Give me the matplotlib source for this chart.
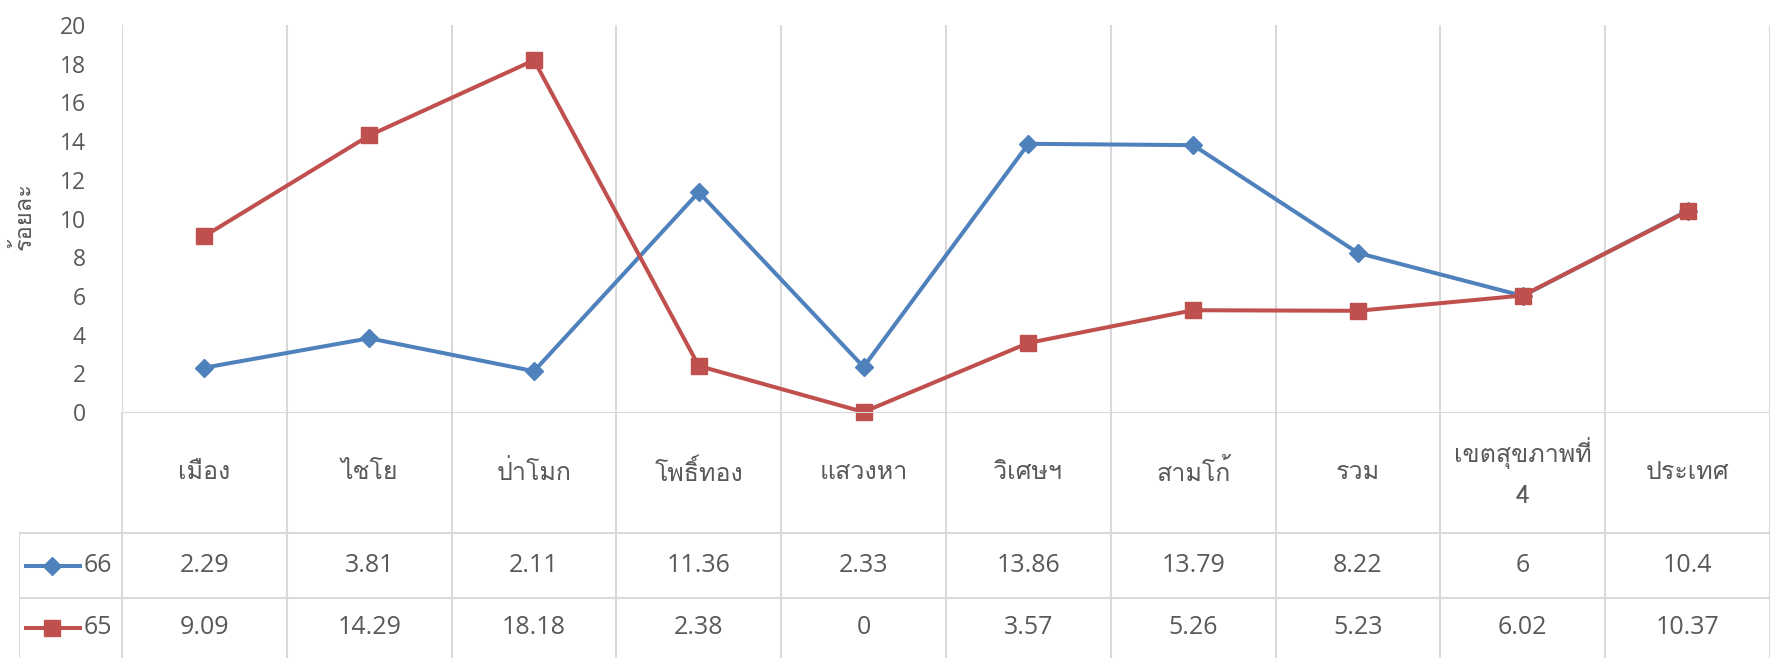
import matplotlib
matplotlib.use('Agg')
import matplotlib.pyplot as plt
from matplotlib import font_manager
from matplotlib.ft2font import FT2Font

# Data
categories = ['เมือง', 'ไชโย', 'ป่าโมก', 'โพธิ์ทอง', 'แสวงหา', 'วิเศษฯ',
              'สามโก้', 'รวม', 'เขตสุขภาพที่\n4', 'ประเทศ']
series_names = ['66', '65']
values_66 = [2.29, 3.81, 2.11, 11.36, 2.33, 13.86, 13.79, 8.22, 6, 10.4]
values_65 = [9.09, 14.29, 18.18, 2.38, 0, 3.57, 5.26, 5.23, 6.02, 10.37]
labels_66 = ['2.29', '3.81', '2.11', '11.36', '2.33', '13.86', '13.79', '8.22', '6', '10.4']
labels_65 = ['9.09', '14.29', '18.18', '2.38', '0', '3.57', '5.26', '5.23', '6.02', '10.37']
y_ticks = [0, 2, 4, 6, 8, 10, 12, 14, 16, 18, 20]
y_label = 'ร้อยละ'

BLUE = '#4F81BD'
RED = '#C0504D'
GRID = '#D9D9D9'
TEXT = '#595959'


# find an installed font that has Thai glyphs
def find_thai_font():
    for f in font_manager.fontManager.ttflist:
        try:
            cmap = FT2Font(f.fname).get_charmap()
        except Exception:
            continue
        if 0x0E01 in cmap and 0x0E2D in cmap:
            return f.name
    return None


thai = find_thai_font()
thai_fam = [thai, 'DejaVu Sans'] if thai else ['DejaVu Sans']
num_fam = ['Open Sans', 'DejaVu Sans']
plt.rcParams['font.family'] = thai_fam

W, H = 1775, 658
fig = plt.figure(figsize=(W / 100, H / 100), dpi=100)

# pixel geometry (from reference)
x_left, x_right = 122, 1770
y_top, y_zero = 25, 412
col_w = (x_right - x_left) / len(categories)

ax = fig.add_axes([x_left / W, 1 - y_zero / H, (x_right - x_left) / W, (y_zero - y_top) / H])
xs = list(range(len(categories)))
ax.set_xlim(-0.5, len(categories) - 0.5)
ax.set_ylim(0, 20)
for s in ax.spines.values():
    s.set_visible(False)
for k in range(len(categories) + 1):
    ax.axvline(k - 0.5, color=GRID, lw=1.5, zorder=0)
ax.set_xticks([])
ax.set_yticks(y_ticks)
ax.set_yticklabels([str(t) for t in y_ticks], family=num_fam)
ax.tick_params(axis='y', length=0, pad=26, labelsize=16.5, labelcolor=TEXT)

ax.plot(xs, values_66, color=BLUE, lw=2.9, marker='D', markersize=9, clip_on=False, zorder=3)
ax.plot(xs, values_65, color=RED, lw=2.9, marker='s', markersize=11.5, clip_on=False, zorder=4)

fig.text(24 / W, 1 - 216 / H, y_label, rotation=90, ha='center', va='center',
         fontsize=17, color=TEXT)

# data table underneath
x_tab0 = 19
tab = fig.add_axes([x_tab0 / W, 0, (x_right - x_tab0) / W, 1 - y_zero / H])
tab_left = -0.5 - (x_left - x_tab0) / col_w
tab.set_xlim(tab_left, len(categories) - 0.5)
tab.set_ylim(H, y_zero)
tab.axis('off')

row_head = (y_zero, 533)
row_a = (533, 598)
row_b = (598, H)

tab.plot([-0.5, len(categories) - 0.5], [y_zero, y_zero], color=GRID, lw=1.5)
for yy in [row_a[0], row_b[0]]:
    tab.plot([tab_left, len(categories) - 0.5], [yy, yy], color=GRID, lw=1.5)
for k in range(len(categories) + 1):
    tab.plot([k - 0.5, k - 0.5], [y_zero, H], color=GRID, lw=1.5)
tab.plot([tab_left, tab_left], [row_a[0], H], color=GRID, lw=1.5)

for i, cat in enumerate(categories):
    tab.text(i, sum(row_head) / 2, cat, ha='center', va='center', fontsize=18,
             color=TEXT, linespacing=1.9)
    tab.text(i, sum(row_a) / 2, labels_66[i], ha='center', va='center', fontsize=18,
             color=TEXT, family=num_fam)
    tab.text(i, sum(row_b) / 2, labels_65[i], ha='center', va='center', fontsize=18,
             color=TEXT, family=num_fam)


def px(x):
    return (x - x_left) / col_w - 0.5


for name, row, color, mk, ms in [(series_names[0], row_a, BLUE, 'D', 9),
                                 (series_names[1], row_b, RED, 's', 11.5)]:
    yc = sum(row) / 2
    tab.plot([px(26), px(80)], [yc, yc], color=color, lw=2.9)
    tab.plot([px(52)], [yc], color=color, marker=mk, markersize=ms)
    tab.text(px(84), yc, name, ha='left', va='center', fontsize=18, color=TEXT,
             family=num_fam)

fig.savefig('out.png', dpi=100)
